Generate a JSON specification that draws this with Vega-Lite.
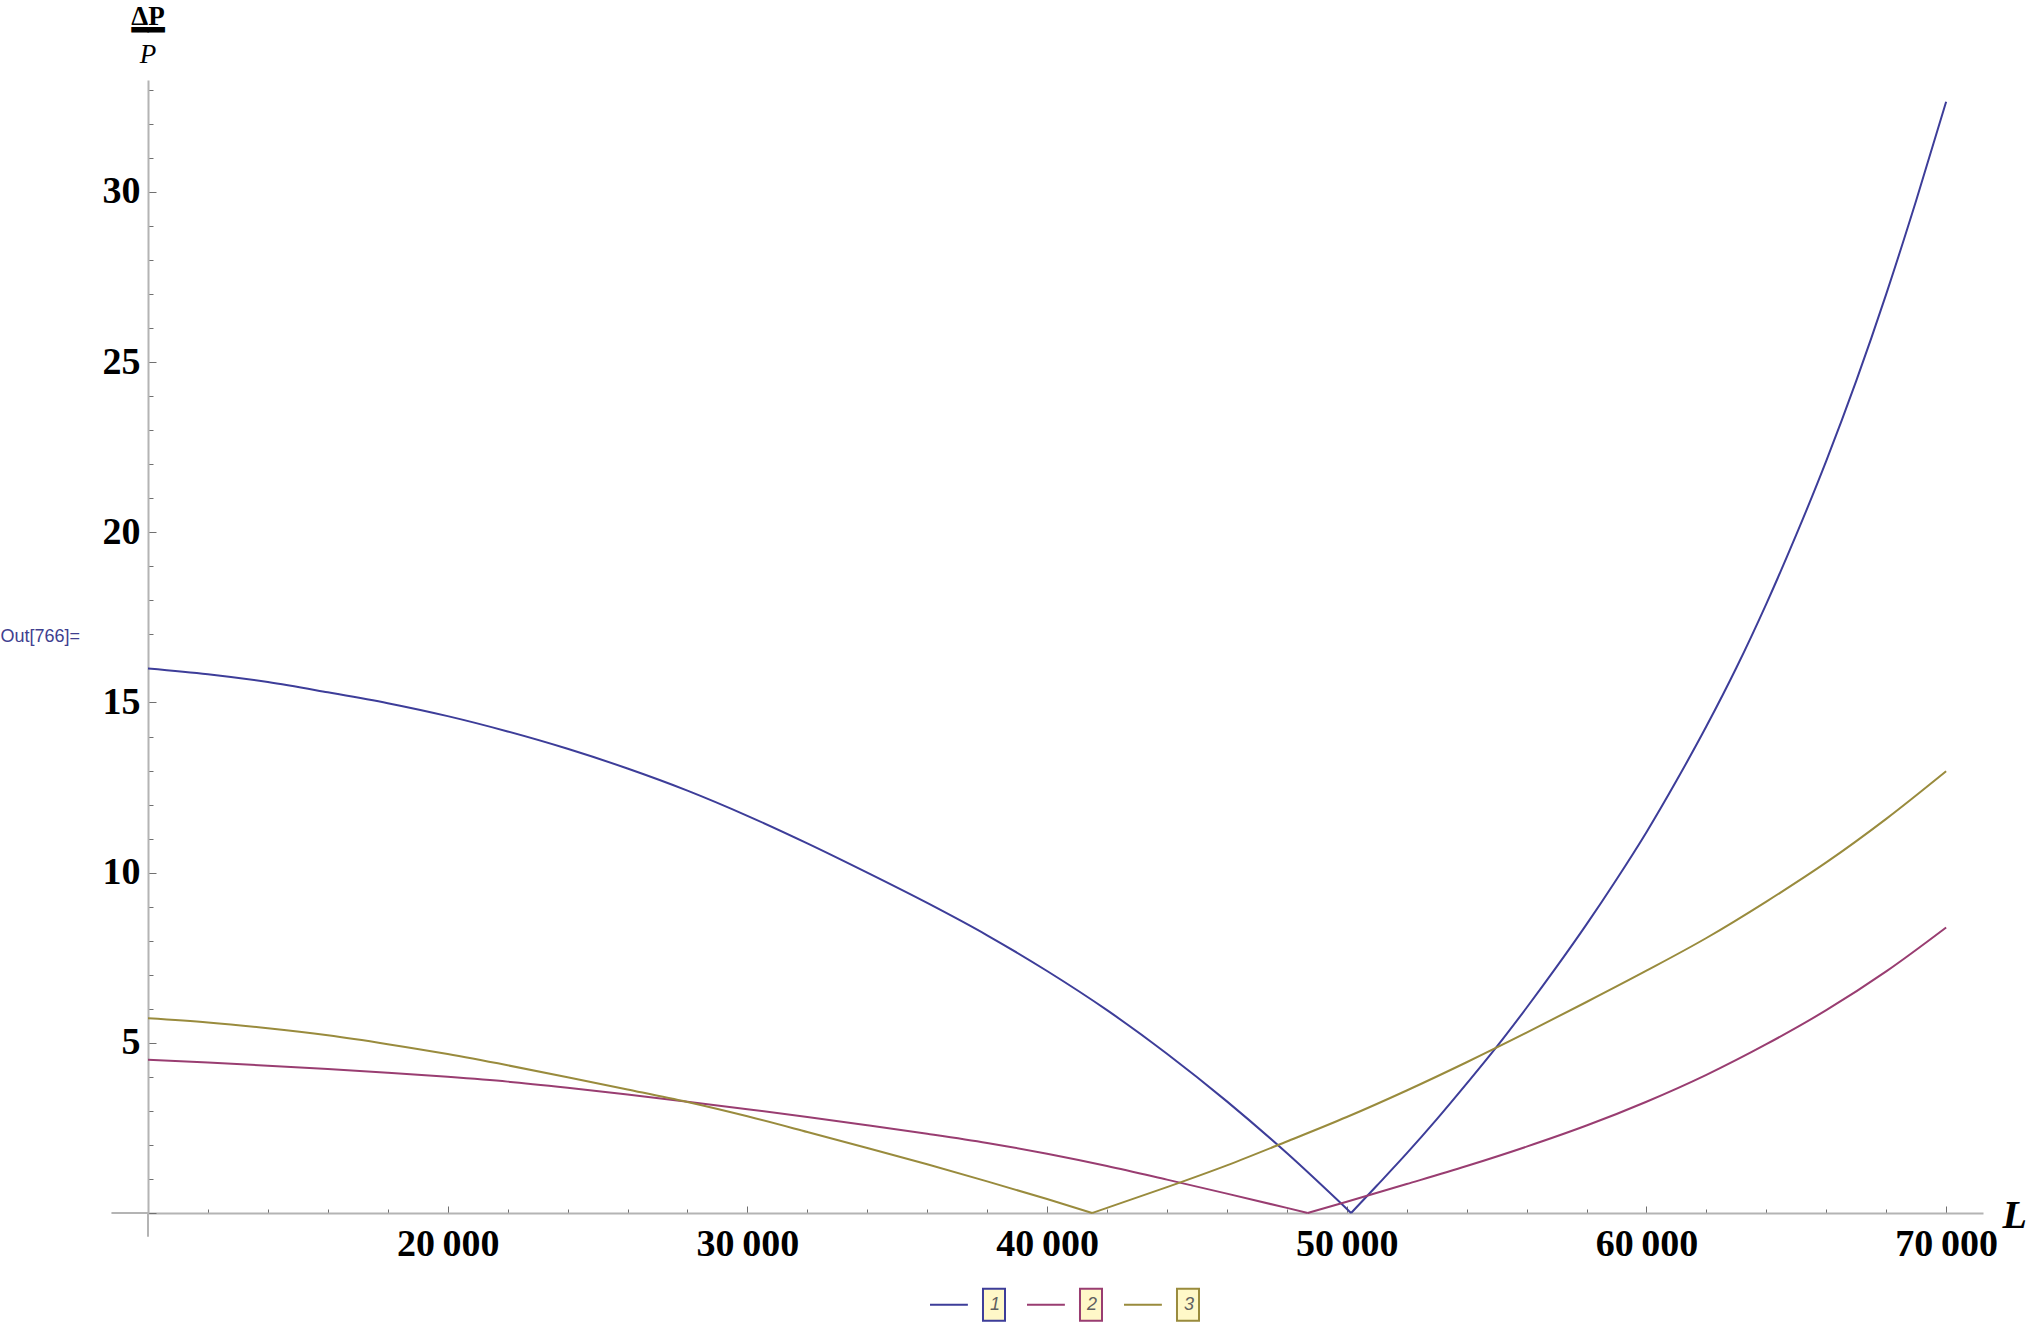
{
  "$schema": "https://vega.github.io/schema/vega-lite/v6.json",
  "autosize": {"type": "none"},
  "width": 1835,
  "height": 1133,
  "padding": {"left": 148, "top": 80, "right": 45, "bottom": 121},
  "background": "white",
  "config": {"view": {"stroke": null}, "axis": {"grid": false}},
  "title": {
    "text": ["ΔP", "━━"],
    "subtitle": "P",
    "anchor": "start",
    "frame": "group",
    "align": "center",
    "font": "Liberation Serif",
    "fontSize": 27,
    "fontWeight": "bold",
    "color": "black",
    "lineHeight": 14.5,
    "subtitleFont": "Liberation Serif",
    "subtitleFontSize": 27,
    "subtitleFontStyle": "italic",
    "subtitleFontWeight": "normal",
    "subtitleColor": "black",
    "subtitlePadding": -3,
    "offset": 11
  },
  "data": {
    "values": [
      {"series": "1", "branch": "a", "L": 10000, "v": 16.0},
      {"series": "1", "branch": "a", "L": 12000, "v": 15.83},
      {"series": "1", "branch": "a", "L": 14000, "v": 15.6},
      {"series": "1", "branch": "a", "L": 16000, "v": 15.3},
      {"series": "1", "branch": "a", "L": 18000, "v": 14.98},
      {"series": "1", "branch": "a", "L": 20000, "v": 14.6},
      {"series": "1", "branch": "a", "L": 22000, "v": 14.15},
      {"series": "1", "branch": "a", "L": 24000, "v": 13.64},
      {"series": "1", "branch": "a", "L": 26000, "v": 13.06},
      {"series": "1", "branch": "a", "L": 28000, "v": 12.41},
      {"series": "1", "branch": "a", "L": 30000, "v": 11.67},
      {"series": "1", "branch": "a", "L": 32000, "v": 10.86},
      {"series": "1", "branch": "a", "L": 34000, "v": 10.0},
      {"series": "1", "branch": "a", "L": 36000, "v": 9.11},
      {"series": "1", "branch": "a", "L": 38000, "v": 8.16},
      {"series": "1", "branch": "a", "L": 40000, "v": 7.11},
      {"series": "1", "branch": "a", "L": 42000, "v": 5.96},
      {"series": "1", "branch": "a", "L": 44000, "v": 4.68},
      {"series": "1", "branch": "a", "L": 46000, "v": 3.28},
      {"series": "1", "branch": "a", "L": 48000, "v": 1.76},
      {"series": "1", "branch": "a", "L": 50145, "v": 0},
      {"series": "1", "branch": "b", "L": 50145, "v": 0},
      {"series": "1", "branch": "b", "L": 51000, "v": 0.8},
      {"series": "1", "branch": "b", "L": 52000, "v": 1.75},
      {"series": "1", "branch": "b", "L": 53000, "v": 2.75},
      {"series": "1", "branch": "b", "L": 54000, "v": 3.8},
      {"series": "1", "branch": "b", "L": 55000, "v": 4.88},
      {"series": "1", "branch": "b", "L": 56000, "v": 6.03},
      {"series": "1", "branch": "b", "L": 57000, "v": 7.23},
      {"series": "1", "branch": "b", "L": 58000, "v": 8.48},
      {"series": "1", "branch": "b", "L": 59000, "v": 9.8},
      {"series": "1", "branch": "b", "L": 60000, "v": 11.19},
      {"series": "1", "branch": "b", "L": 61000, "v": 12.7},
      {"series": "1", "branch": "b", "L": 62000, "v": 14.3},
      {"series": "1", "branch": "b", "L": 63000, "v": 16.02},
      {"series": "1", "branch": "b", "L": 64000, "v": 17.9},
      {"series": "1", "branch": "b", "L": 65000, "v": 19.93},
      {"series": "1", "branch": "b", "L": 66000, "v": 22.1},
      {"series": "1", "branch": "b", "L": 67000, "v": 24.45},
      {"series": "1", "branch": "b", "L": 68000, "v": 27.0},
      {"series": "1", "branch": "b", "L": 69000, "v": 29.75},
      {"series": "1", "branch": "b", "L": 70000, "v": 32.65},
      {"series": "2", "branch": "a", "L": 10000, "v": 4.5},
      {"series": "2", "branch": "a", "L": 12000, "v": 4.42},
      {"series": "2", "branch": "a", "L": 14000, "v": 4.33},
      {"series": "2", "branch": "a", "L": 16000, "v": 4.23},
      {"series": "2", "branch": "a", "L": 18000, "v": 4.12},
      {"series": "2", "branch": "a", "L": 20000, "v": 4.0},
      {"series": "2", "branch": "a", "L": 22000, "v": 3.86},
      {"series": "2", "branch": "a", "L": 24000, "v": 3.68},
      {"series": "2", "branch": "a", "L": 26000, "v": 3.48},
      {"series": "2", "branch": "a", "L": 28000, "v": 3.27},
      {"series": "2", "branch": "a", "L": 30000, "v": 3.05},
      {"series": "2", "branch": "a", "L": 32000, "v": 2.82},
      {"series": "2", "branch": "a", "L": 34000, "v": 2.58},
      {"series": "2", "branch": "a", "L": 36000, "v": 2.33},
      {"series": "2", "branch": "a", "L": 38000, "v": 2.06},
      {"series": "2", "branch": "a", "L": 40000, "v": 1.74},
      {"series": "2", "branch": "a", "L": 42000, "v": 1.38},
      {"series": "2", "branch": "a", "L": 44000, "v": 0.98},
      {"series": "2", "branch": "a", "L": 46000, "v": 0.57},
      {"series": "2", "branch": "a", "L": 48000, "v": 0.15},
      {"series": "2", "branch": "a", "L": 48700, "v": 0},
      {"series": "2", "branch": "b", "L": 48700, "v": 0},
      {"series": "2", "branch": "b", "L": 50000, "v": 0.33},
      {"series": "2", "branch": "b", "L": 52000, "v": 0.85},
      {"series": "2", "branch": "b", "L": 54000, "v": 1.38},
      {"series": "2", "branch": "b", "L": 56000, "v": 1.95},
      {"series": "2", "branch": "b", "L": 58000, "v": 2.57},
      {"series": "2", "branch": "b", "L": 60000, "v": 3.27},
      {"series": "2", "branch": "b", "L": 62000, "v": 4.06},
      {"series": "2", "branch": "b", "L": 64000, "v": 4.96},
      {"series": "2", "branch": "b", "L": 66000, "v": 5.96},
      {"series": "2", "branch": "b", "L": 68000, "v": 7.1},
      {"series": "2", "branch": "b", "L": 70000, "v": 8.39},
      {"series": "3", "branch": "a", "L": 10000, "v": 5.72},
      {"series": "3", "branch": "a", "L": 12000, "v": 5.6},
      {"series": "3", "branch": "a", "L": 14000, "v": 5.43},
      {"series": "3", "branch": "a", "L": 16000, "v": 5.22},
      {"series": "3", "branch": "a", "L": 18000, "v": 4.96},
      {"series": "3", "branch": "a", "L": 20000, "v": 4.67},
      {"series": "3", "branch": "a", "L": 22000, "v": 4.34},
      {"series": "3", "branch": "a", "L": 24000, "v": 3.99},
      {"series": "3", "branch": "a", "L": 26000, "v": 3.63},
      {"series": "3", "branch": "a", "L": 28000, "v": 3.26},
      {"series": "3", "branch": "a", "L": 30000, "v": 2.84},
      {"series": "3", "branch": "a", "L": 32000, "v": 2.38},
      {"series": "3", "branch": "a", "L": 34000, "v": 1.91},
      {"series": "3", "branch": "a", "L": 36000, "v": 1.43},
      {"series": "3", "branch": "a", "L": 38000, "v": 0.93},
      {"series": "3", "branch": "a", "L": 40000, "v": 0.41},
      {"series": "3", "branch": "a", "L": 41502, "v": 0},
      {"series": "3", "branch": "b", "L": 41502, "v": 0},
      {"series": "3", "branch": "b", "L": 42000, "v": 0.15},
      {"series": "3", "branch": "b", "L": 44000, "v": 0.76},
      {"series": "3", "branch": "b", "L": 46000, "v": 1.4},
      {"series": "3", "branch": "b", "L": 48000, "v": 2.1},
      {"series": "3", "branch": "b", "L": 50000, "v": 2.82},
      {"series": "3", "branch": "b", "L": 52000, "v": 3.6},
      {"series": "3", "branch": "b", "L": 54000, "v": 4.43},
      {"series": "3", "branch": "b", "L": 56000, "v": 5.3},
      {"series": "3", "branch": "b", "L": 58000, "v": 6.2},
      {"series": "3", "branch": "b", "L": 60000, "v": 7.12},
      {"series": "3", "branch": "b", "L": 62000, "v": 8.08},
      {"series": "3", "branch": "b", "L": 64000, "v": 9.15},
      {"series": "3", "branch": "b", "L": 66000, "v": 10.3},
      {"series": "3", "branch": "b", "L": 68000, "v": 11.58},
      {"series": "3", "branch": "b", "L": 70000, "v": 12.98}
    ]
  },
  "layer": [
    {
      "mark": {"type": "line", "strokeWidth": 2, "interpolate": "monotone"},
      "encoding": {
        "x": {
          "field": "L", "type": "quantitative",
          "scale": {"domain": [10000, 71230], "nice": false, "zero": false},
          "axis": {
            "values": [10000, 12000, 14000, 16000, 18000, 20000, 22000, 24000, 26000, 28000, 30000, 32000, 34000, 36000, 38000, 40000, 42000, 44000, 46000, 48000, 50000, 52000, 54000, 56000, 58000, 60000, 62000, 64000, 66000, 68000, 70000],
            "tickCount": 200,
            "labelExpr": "(datum.value % 10000 === 0 && datum.value > 10000) ? replace(format(datum.value, ','), ',', '\u2009') : ''",
            "tickSize": {"condition": {"test": "datum.value % 10000 === 0", "value": -7}, "value": -4},
            "tickColor": "#707070",
            "tickWidth": 1,
            "domainColor": "#b4b4b4",
            "domainWidth": 2,
            "labelFont": "Liberation Serif",
            "labelFontWeight": "bold",
            "labelFontSize": 38,
            "labelColor": "black",
            "labelBaseline": "alphabetic",
            "labelPadding": 49,
            "labelFlush": false,
            "labelOverlap": false,
            "title": "L",
            "titleFont": "Liberation Serif",
            "titleFontStyle": "italic",
            "titleFontWeight": "bold",
            "titleFontSize": 40,
            "titleColor": "black",
            "titleAlign": "left",
            "titleBaseline": "alphabetic",
            "titleAnchor": "start",
            "titleX": 1854,
            "titleY": 14
          }
        },
        "y": {
          "field": "v", "type": "quantitative",
          "scale": {"domain": [0, 33.29], "nice": false, "zero": false},
          "axis": {
            "values": [0, 1, 2, 3, 4, 5, 6, 7, 8, 9, 10, 11, 12, 13, 14, 15, 16, 17, 18, 19, 20, 21, 22, 23, 24, 25, 26, 27, 28, 29, 30, 31, 32, 33],
            "tickCount": 200,
            "labelExpr": "(datum.value % 5 === 0 && datum.value > 0) ? format(datum.value, 'd') : ''",
            "labelFontSize": {"condition": {"test": "datum.value % 5 === 0", "value": 38}, "value": 1},
            "tickSize": {"condition": {"test": "datum.value % 5 === 0", "value": -8}, "value": -5},
            "tickColor": "#707070",
            "tickWidth": 1,
            "domainColor": "#b4b4b4",
            "domainWidth": 2,
            "labelFont": "Liberation Serif",
            "labelFontWeight": "bold",
            "labelColor": "black",
            "labelPadding": 16,
            "labelFlush": false,
            "labelOverlap": false,
            "title": "Out[766]=",
            "titleAngle": 0,
            "titleFont": "Liberation Sans",
            "titleFontSize": 18,
            "titleFontWeight": "normal",
            "titleColor": "#40408f",
            "titleAlign": "left",
            "titleBaseline": "middle",
            "titleAnchor": "start",
            "titleX": -148,
            "titleY": 556
          }
        },
        "color": {
          "field": "series", "type": "nominal",
          "scale": {"domain": ["1", "2", "3"], "range": ["#3d3d99", "#993d71", "#998b3d"]},
          "legend": {
            "title": null,
            "orient": "none",
            "direction": "horizontal",
            "legendX": 781,
            "legendY": 1186,
            "padding": 0,
            "symbolType": "M-1,0H0.01M0.413,-0.427H1V0.427H0.413Z",
            "symbolSize": 5625,
            "symbolStrokeWidth": 2,
            "symbolFillColor": "#fff8c8",
            "labelFont": "Liberation Sans",
            "labelFontStyle": "italic",
            "labelFontSize": 18,
            "labelColor": "#606060",
            "labelOffset": -16,
            "columnPadding": 14
          }
        },
        "detail": {"field": "branch", "type": "nominal"}
      }
    },
    {
      "data": {"values": [{}]},
      "mark": {"type": "rule", "color": "#b4b4b4", "strokeWidth": 2},
      "encoding": {
        "x": {"datum": 8780, "type": "quantitative"},
        "x2": {"datum": 10000},
        "y": {"datum": 0, "type": "quantitative"}
      }
    },
    {
      "data": {"values": [{}]},
      "mark": {"type": "rule", "color": "#b4b4b4", "strokeWidth": 2},
      "encoding": {
        "x": {"datum": 10000, "type": "quantitative"},
        "y": {"datum": -0.7, "type": "quantitative"},
        "y2": {"datum": 0}
      }
    }
  ]
}
